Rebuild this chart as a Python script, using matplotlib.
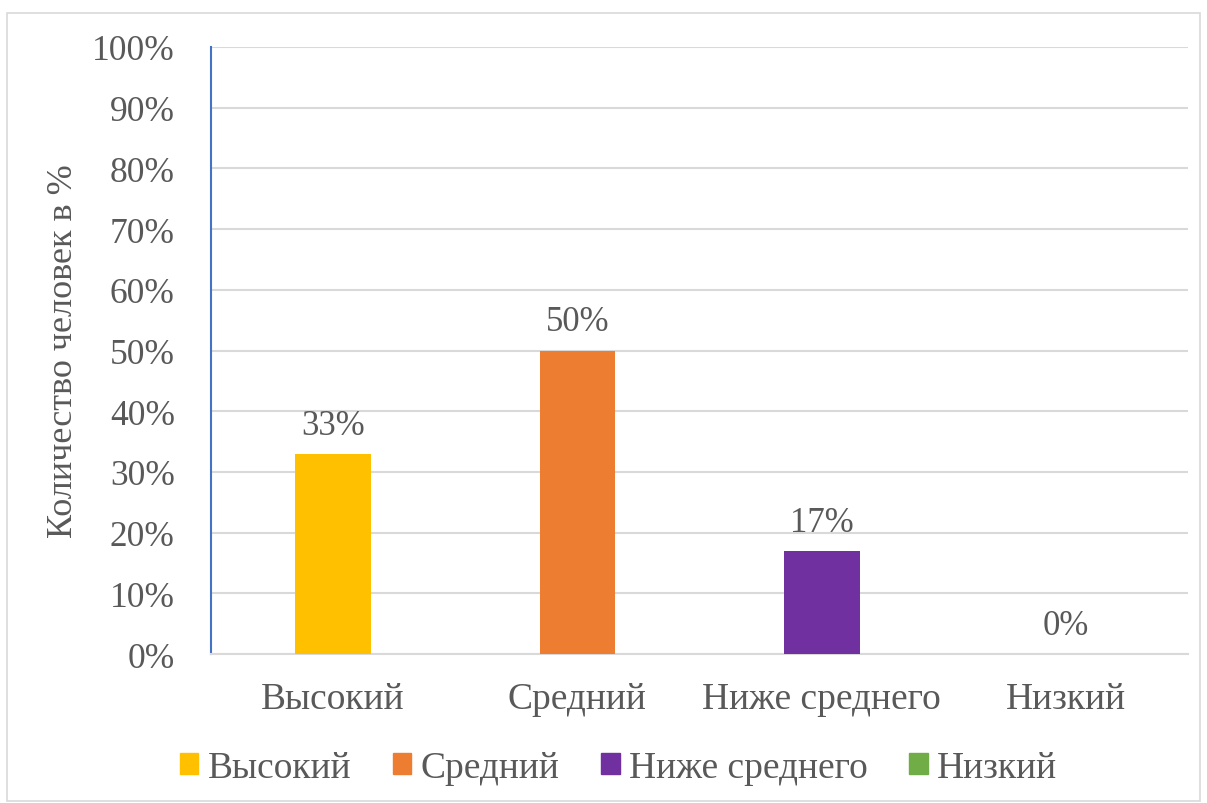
import matplotlib.pyplot as plt
from matplotlib.patches import Rectangle, Patch

categories = ["Высокий", "Средний", "Ниже среднего", "Низкий"]
values = [33, 50, 17, 0]
colors = ["#FFC000", "#ED7D31", "#7030A0", "#70AD47"]
yticks = [0, 10, 20, 30, 40, 50, 60, 70, 80, 90, 100]

plt.rcParams['font.family'] = ['Liberation Serif', 'DejaVu Serif']
text_color = "#595959"

fig = plt.figure(figsize=(12.07, 8.04), dpi=100)
ax = fig.add_axes([0.1748, 0.1853, 0.8095, 0.755])

x = list(range(len(categories)))
ax.bar(x, values, width=0.31, color=colors, zorder=3)

for xi, v in zip(x, values):
    ax.text(xi, v + 2, f"{v}%", ha="center", va="bottom", fontsize=25, color=text_color)

ax.set_xlim(-0.5, 3.5)
ax.set_ylim(0, 100)
ax.set_yticks(yticks)
ax.set_yticklabels([f"{t}%" for t in yticks])
ax.set_xticks(x)
ax.set_xticklabels(categories)
ax.tick_params(axis="y", length=0, pad=26, labelsize=25.5, labelcolor=text_color)
ax.tick_params(axis="x", length=0, pad=20, labelsize=27, labelcolor=text_color)
ax.grid(axis="y", color="#D9D9D9", linewidth=1.5, zorder=0)
ax.set_axisbelow(True)

for s in ["top", "right"]:
    ax.spines[s].set_visible(False)
ax.spines["left"].set_color("#4472C4")
ax.spines["left"].set_linewidth(1.5)
ax.spines["bottom"].set_color("#D9D9D9")
ax.spines["bottom"].set_linewidth(1.5)

ax.set_ylabel("Количество человек в %", fontsize=26, color=text_color)
ax.yaxis.set_label_coords(-0.134, 0.5)

handles = [Patch(color=c, label=l) for c, l in zip(colors, categories)]
fig.legend(handles=handles, loc="center", bbox_to_anchor=(0.5124, 0.044), ncol=4,
           frameon=False, fontsize=27, labelcolor=text_color,
           handlelength=0.5, handleheight=0.5, handletextpad=0.25, columnspacing=1.1)

fig.patches.append(Rectangle((7 / 1207, 0.002), 1193 / 1207, 1 - 14 / 804 - 0.002,
                             transform=fig.transFigure, fill=False,
                             edgecolor="#D9D9D9", linewidth=1.2))

fig.savefig("out.png", dpi=100)
